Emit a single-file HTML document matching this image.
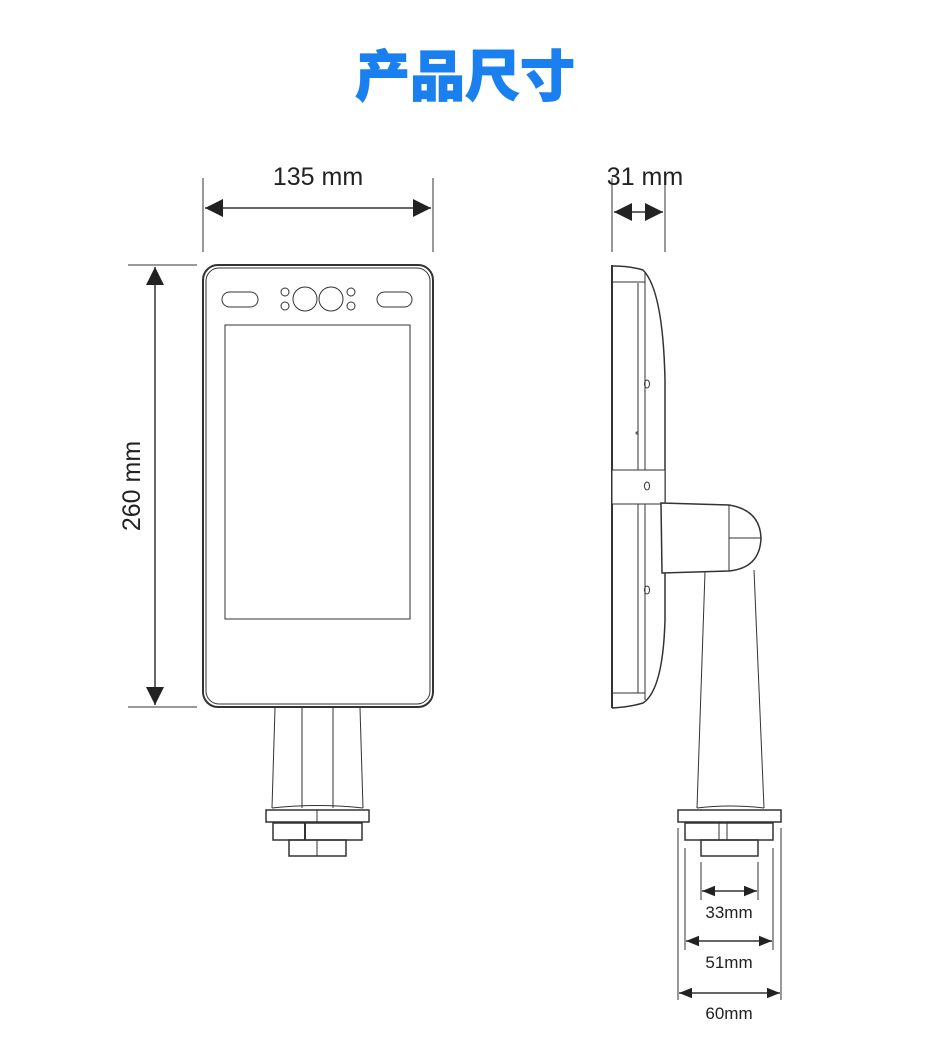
<!DOCTYPE html>
<html><head><meta charset="utf-8"><style>
body{margin:0;background:#fff}
svg{display:block}
text{font-family:"Liberation Sans",sans-serif;fill:#222}
</style></head><body>
<svg width="930" height="1055" viewBox="0 0 930 1055" xmlns="http://www.w3.org/2000/svg">
<defs>
<marker id="a" viewBox="0 0 10 10" refX="10" refY="5" markerWidth="18" markerHeight="18" markerUnits="userSpaceOnUse" orient="auto-start-reverse"><path d="M0,0 L10,5 L0,10 Z" fill="#222"/></marker>
<marker id="b" viewBox="0 0 10 10" refX="10" refY="5" markerWidth="13" markerHeight="13" markerUnits="userSpaceOnUse" orient="auto-start-reverse"><path d="M0,1 L10,5 L0,9 Z" fill="#222"/></marker>
</defs>
<text x="465" y="96" text-anchor="middle" style="font-family:'Liberation Sans','Noto Sans CJK SC',sans-serif;font-size:55px;font-weight:900;fill:#1a80f0;stroke:#1a80f0;stroke-width:1">产品尺寸</text>

<g stroke="#333" fill="none" stroke-width="1">
<line x1="203" y1="178" x2="203" y2="252"/><line x1="433" y1="178" x2="433" y2="252"/>
<line x1="205" y1="208" x2="431" y2="208" stroke-width="1.5" marker-start="url(#a)" marker-end="url(#a)"/>
<line x1="128" y1="265" x2="197" y2="265"/><line x1="128" y1="707" x2="197" y2="707"/>
<line x1="155" y1="267" x2="155" y2="705" stroke-width="1.5" marker-start="url(#a)" marker-end="url(#a)"/>

<rect x="203" y="265" width="230" height="442" rx="15" stroke-width="2"/>
<rect x="206" y="268" width="224" height="436" rx="13"/>
<rect x="225" y="325" width="185" height="294"/>
<rect x="222" y="292" width="36" height="15" rx="7.5"/>
<rect x="377" y="292" width="35" height="15" rx="7.5"/>
<circle cx="285" cy="292" r="4"/><circle cx="285" cy="306" r="4"/>
<circle cx="351" cy="292" r="4"/><circle cx="351" cy="306" r="4"/>
<circle cx="305" cy="299" r="12"/><circle cx="331" cy="299" r="12"/>
<line x1="275" y1="708" x2="272" y2="808"/><line x1="360" y1="708" x2="363" y2="808"/>
<line x1="302" y1="708" x2="302" y2="808"/><line x1="333" y1="708" x2="333" y2="808"/>
<path d="M272,808 Q318,803 363,808"/>
<rect x="266" y="810" width="103" height="12" stroke-width="1.5"/><line x1="317" y1="810" x2="317" y2="822"/>
<rect x="273" y="823" width="89" height="17" stroke-width="1.5"/><line x1="305" y1="823" x2="305" y2="840" stroke-width="2"/>
<rect x="289" y="840" width="57" height="16" stroke-width="1.5"/><line x1="317" y1="840" x2="317" y2="856"/>

<line x1="612" y1="178" x2="612" y2="252"/><line x1="665" y1="178" x2="665" y2="252"/>
<line x1="614" y1="212" x2="663" y2="212" stroke-width="1.5" marker-start="url(#a)" marker-end="url(#a)"/>

<line x1="612" y1="265" x2="612" y2="708" stroke-width="2"/>
<path d="M612,266 Q630,266 643,270 Q663,290 665,380 L665,620 Q663,690 643,703 Q630,707 612,708" stroke-width="1.5"/>
<line x1="638" y1="283" x2="638" y2="693"/><line x1="645" y1="272" x2="645" y2="700"/>
<line x1="612" y1="282" x2="645" y2="282"/><line x1="612" y1="693" x2="645" y2="693"/>
<rect x="612" y="470" width="53" height="34" fill="#fff"/>
<ellipse cx="647" cy="486" rx="2.5" ry="4"/>
<ellipse cx="647" cy="384" rx="2.5" ry="4"/>
<ellipse cx="647" cy="590" rx="2.5" ry="4"/>
<circle cx="637" cy="433" r="1"/>
<path d="M661,503 L729,505 Q760,510 761,538 Q760,568 729,571 L662,573 Z" stroke-width="1.5" fill="#fff"/>
<line x1="729" y1="505" x2="729" y2="571"/><line x1="729" y1="538" x2="761" y2="538"/>
<line x1="665" y1="573" x2="665" y2="620"/>
<line x1="705" y1="572" x2="697" y2="808"/><line x1="754" y1="570" x2="764" y2="808"/>
<path d="M697,808 Q730,804 764,808"/>
<rect x="678" y="810" width="103" height="12" stroke-width="1.5"/>
<rect x="685" y="823" width="88" height="17" stroke-width="1.5"/><line x1="719" y1="823" x2="719" y2="840"/><line x1="727" y1="823" x2="727" y2="840"/>
<rect x="701" y="840" width="57" height="16" stroke-width="1.5"/>
<line x1="678" y1="828" x2="678" y2="1000"/><line x1="781" y1="828" x2="781" y2="1000"/>
<line x1="685" y1="848" x2="685" y2="950"/><line x1="773" y1="848" x2="773" y2="950"/>
<line x1="701" y1="862" x2="701" y2="900"/><line x1="758" y1="862" x2="758" y2="900"/>
<line x1="702" y1="891" x2="757" y2="891" stroke-width="1.5" marker-start="url(#b)" marker-end="url(#b)"/>
<line x1="686" y1="941" x2="772" y2="941" stroke-width="1.5" marker-start="url(#b)" marker-end="url(#b)"/>
<line x1="679" y1="993" x2="780" y2="993" stroke-width="1.5" marker-start="url(#b)" marker-end="url(#b)"/>
</g>
<text x="318" y="185" text-anchor="middle" font-size="25">135 mm</text>
<text x="645" y="185" text-anchor="middle" font-size="25">31 mm</text>
<text transform="translate(140,486) rotate(-90)" text-anchor="middle" font-size="25">260 mm</text>
<text x="729" y="918" text-anchor="middle" font-size="17">33mm</text>
<text x="729" y="968" text-anchor="middle" font-size="17">51mm</text>
<text x="729" y="1019" text-anchor="middle" font-size="17">60mm</text>
</svg>
</body></html>
